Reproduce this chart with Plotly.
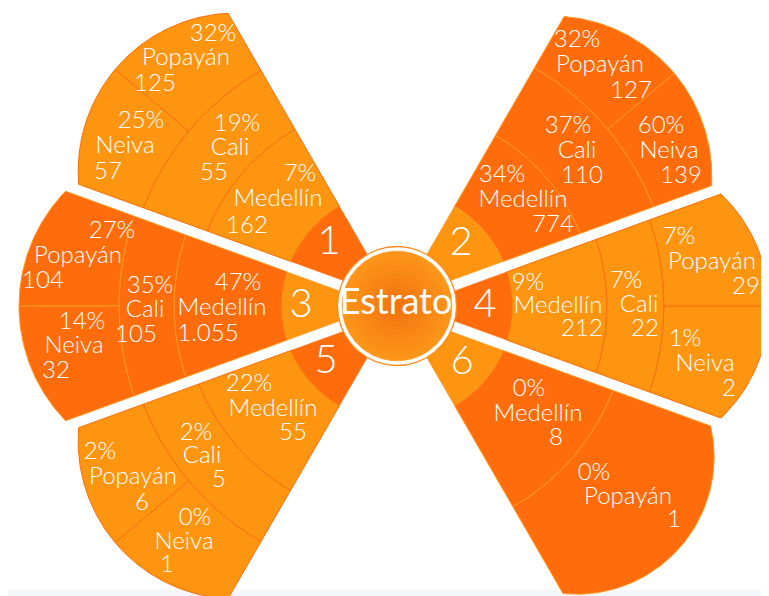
import numpy as np
import plotly.graph_objects as go

# ---------------- data ----------------
estratos = ["1", "2", "3", "4", "5", "6"]
medellin_pct = [7, 34, 47, 9, 22, 0]
medellin_n = [162, 774, 1055, 212, 55, 8]
cali_pct = [19, 37, 35, 7, 2, None]
cali_n = [55, 110, 105, 22, 5, None]
neiva_pct = [25, 60, 14, 1, 0, None]
neiva_n = [57, 139, 32, 2, 1, None]
popayan_pct = [32, 32, 27, 7, 2, 0]
popayan_n = [125, 127, 104, 29, 6, 1]
center_label = "Estrato"

# ---------------- styling ----------------
W, H = 769, 596
CX, CY = 389, 298
DARK = "#FF6C0B"
LIGHT = "#FE9510"
BORDER_ON_LIGHT = "#F86F0E"
BORDER_ON_DARK = "#FF9820"
FONT = "Lato"
BIS = [140, 40, 180, 0, 220, -40]          # wedge bisector angles (deg, ccw from east)
HALF = 20
GAP = 5.5                                  # half width of white gaps (px)
OFFS = [(False, True), (True, False), (True, True), (True, True), (True, False), (False, True)]
CITY_DARK = [False, True, True, False, False, True]
R_IN = 58
R_NUM = 115
R_MED = [204, 197, 223, 210, 213, 232]
R_CALI = [272, 275, 278, 267, 272, None]
R_CORNER = [341, 337, 351, 343, 341, 336]
R_MID = [368, 362, 378, 372, 368, 372]

LABEL_POS = {
    ("1", "Popayán"): [(205, 27), (178, 51), (147, 77)],
    ("1", "Neiva"): [(133, 114), (117, 139), (100, 165)],
    ("1", "Cali"): [(229, 117), (222, 141), (206, 166)],
    ("1", "Medellín"): [(292, 167), (270, 192), (239, 219)],
    ("2", "Popayán"): [(569, 33), (592, 58), (623, 84)],
    ("2", "Neiva"): [(653, 119), (661, 144), (673, 169)],
    ("2", "Cali"): [(560, 119), (569, 144), (574, 169)],
    ("2", "Medellín"): [(494, 168), (515, 193), (545, 218)],
    ("3", "Popayán"): [(104, 224), (70, 249), (35, 274)],
    ("3", "Neiva"): [(74, 315), (66, 339), (48, 364)],
    ("3", "Cali"): [(142, 279), (137, 303), (128, 328)],
    ("3", "Medellín"): [(230, 276), (214, 301), (200, 327)],
    ("4", "Popayán"): [(671, 230), (704, 255), (738, 280)],
    ("4", "Neiva"): [(677, 332), (697, 357), (721, 382)],
    ("4", "Cali"): [(618, 274), (631, 298), (637, 322)],
    ("4", "Medellín"): [(520, 276), (550, 299), (574, 322)],
    ("5", "Medellín"): [(241, 377), (265, 402), (285, 426)],
    ("5", "Cali"): [(188, 426), (194, 449), (211, 473)],
    ("5", "Popayán"): [(92, 445), (125, 470), (134, 496)],
    ("5", "Neiva"): [(187, 511), (176, 535), (159, 558)],
    ("6", "Medellín"): [(521, 382), (530, 407), (548, 431)],
    ("6", "Popayán"): [(586, 466), (620, 490), (666, 513)],
}
NUM_POS = [(321, 236), (453, 237), (293, 299), (477, 299), (318, 355), (454, 356)]
CENTER_POS = (388, 297)


def px(x, y):
    """picture position -> data coords centred on the chart centre"""
    return x - CX, CY - y


def fmt(n):
    return f"{n:,}".replace(",", ".")


def make_bulge(i):
    a = np.radians(19)
    rc, rm = R_CORNER[i], R_MID[i]
    d = (rm ** 2 - rc ** 2) / (2 * (rm - rc * np.cos(a)))
    rho = rm - d
    b = BIS[i]

    def f(t):
        al = np.radians(t - b)
        return d * np.cos(al) + np.sqrt(max(rho ** 2 - (d * np.sin(al)) ** 2, 0))
    return f


def rad(f, t):
    return f(t) if callable(f) else f


def corner(base, sign, off, f):
    t = base
    for _ in range(5):
        r = rad(f, t)
        t = base + sign * np.degrees(np.arcsin(GAP / r)) if off else base
    return t


def cell_poly(t0, t1, fin, fout, off0, off1, n=80):
    a0 = corner(t0, +1, off0, fin)
    a1 = corner(t1, -1, off1, fin)
    b0 = corner(t0, +1, off0, fout)
    b1 = corner(t1, -1, off1, fout)
    ti = np.linspace(a0, a1, n)
    to = np.linspace(b1, b0, n)
    th = np.array(list(ti) + list(to) + [a0])
    r = np.array([rad(fin, t) for t in ti] + [rad(fout, t) for t in to] + [rad(fin, a0)])
    return r * np.cos(np.radians(th)), r * np.sin(np.radians(th))


fig = go.Figure()


def add_poly(x, y, fill, border, width=1.0):
    fig.add_trace(go.Scatter(
        x=x, y=y, mode="lines", fill="toself", fillcolor=fill,
        line=dict(color=border, width=width),
        hoverinfo="skip", showlegend=False))


for i, est in enumerate(estratos):
    b = BIS[i]
    lo, hi = b - HALF, b + HALF
    off_lo, off_hi = OFFS[i]
    cfill = DARK if CITY_DARK[i] else LIGHT
    nfill = LIGHT if CITY_DARK[i] else DARK
    cborder = BORDER_ON_DARK if CITY_DARK[i] else BORDER_ON_LIGHT
    bulge = make_bulge(i)
    # number ring
    add_poly(*cell_poly(lo, hi, R_IN, R_NUM, off_lo, off_hi), nfill, nfill, 0.5)
    # Medellín ring
    add_poly(*cell_poly(lo, hi, R_NUM, R_MED[i], off_lo, off_hi), cfill, cborder)
    if R_CALI[i] is not None:
        add_poly(*cell_poly(lo, hi, R_MED[i], R_CALI[i], off_lo, off_hi), cfill, cborder)
        add_poly(*cell_poly(lo, b, R_CALI[i], bulge, off_lo, False), cfill, cborder)
        add_poly(*cell_poly(b, hi, R_CALI[i], bulge, False, off_hi), cfill, cborder)
    else:
        add_poly(*cell_poly(lo, hi, R_MED[i], bulge, off_lo, off_hi), cfill, cborder)

# centre circle: white ring with thin orange outline, then radial gradient disc
circ = np.radians(np.linspace(0, 360, 361))
add_poly(59.5 * np.cos(circ), 59.5 * np.sin(circ), "white", "#FF8C1A", 1.3)
c_edge = np.array([252, 150, 26])
c_mid = np.array([244, 112, 14])
steps = 14
for k in range(steps):
    rr = 55 * (1 - k / steps)
    col = c_mid + (c_edge - c_mid) * (rr / 55)
    cs = "rgb(%d,%d,%d)" % tuple(col.astype(int))
    add_poly(rr * np.cos(circ), rr * np.sin(circ), cs, cs, 0.5)

# labels
tx, ty, ts = [], [], []
cities = [("Medellín", medellin_pct, medellin_n), ("Cali", cali_pct, cali_n),
          ("Neiva", neiva_pct, neiva_n), ("Popayán", popayan_pct, popayan_n)]
for i, est in enumerate(estratos):
    for name, pcts, ns in cities:
        if pcts[i] is None:
            continue
        lines = [f"{pcts[i]}%", name, fmt(ns[i])]
        for (x, y), s in zip(LABEL_POS[(est, name)], lines):
            X, Y = px(x, y)
            tx.append(X)
            ty.append(Y)
            ts.append(s)
fig.add_trace(go.Scatter(
    x=tx, y=ty, text=ts, mode="text", textposition="middle center",
    textfont=dict(family=FONT, size=24, color="white", weight=300),
    hoverinfo="skip", showlegend=False))

nx, ny = zip(*[px(x, y) for x, y in NUM_POS])
fig.add_trace(go.Scatter(
    x=list(nx), y=list(ny), text=estratos, mode="text", textposition="middle center",
    textfont=dict(family=FONT, size=40, color="white", weight=300),
    hoverinfo="skip", showlegend=False))

cx_, cy_ = px(*CENTER_POS)
fig.add_trace(go.Scatter(
    x=[cx_], y=[cy_], text=[center_label], mode="text", textposition="middle center",
    textfont=dict(family=FONT, size=36, color="white"),
    hoverinfo="skip", showlegend=False))

fig.update_layout(
    width=W, height=H, margin=dict(l=0, r=0, t=0, b=0),
    paper_bgcolor="white", plot_bgcolor="white", showlegend=False,
    xaxis=dict(range=[-CX, W - CX], visible=False, fixedrange=True),
    yaxis=dict(range=[CY - H, CY], visible=False, fixedrange=True),
    shapes=[
        dict(type="rect", xref="paper", yref="paper", x0=0, x1=1, y0=0, y1=14 / 596,
             fillcolor="rgba(232,235,241,0.45)", line=dict(width=0), layer="below"),
        dict(type="rect", xref="paper", yref="paper", x0=0, x1=1, y0=0, y1=7 / 596,
             fillcolor="rgba(228,231,238,0.6)", line=dict(width=0), layer="below"),
    ],
)

fig.write_html("out.html")
